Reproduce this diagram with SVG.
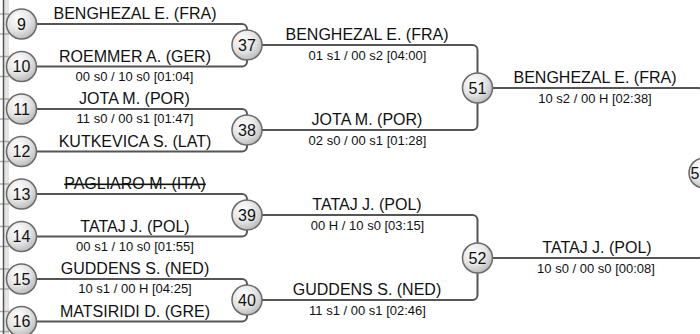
<svg xmlns="http://www.w3.org/2000/svg" width="700" height="334" viewBox="0 0 700 334">
<defs>
<radialGradient id="g" cx="0.38" cy="0.32" r="0.75">
<stop offset="0" stop-color="#ffffff"/>
<stop offset="0.55" stop-color="#e4e4e4"/>
<stop offset="1" stop-color="#b4b4b4"/>
</radialGradient>
</defs>
<style>
.c{fill:url(#g);stroke:#6a6a6a;stroke-width:1.5}
.cn{font-family:"Liberation Sans",Arial,sans-serif;font-size:16px;fill:#111;text-anchor:middle}
.nm{font-family:"Liberation Sans",Arial,sans-serif;font-size:16px;fill:#111;text-anchor:middle}
.sc{font-family:"Liberation Sans",Arial,sans-serif;font-size:13px;fill:#111;text-anchor:middle}
.ln{fill:none;stroke:#555;stroke-width:2}
.tk{fill:none;stroke:#aaa;stroke-width:1.5}
.st{text-decoration:line-through}
</style>
<rect x="0" y="0" width="700" height="334" fill="#ffffff"/>
<g id="left-edge">
<rect x="4" y="0" width="5" height="334" fill="#e4e4e4"/>
<path class="tk" d="M0,14H9M0,34H9M0,56.5H9M0,76.5H9M0,99H9M0,119H9M0,141.5H9M0,161.5H9M0,184H9M0,204H9M0,226.5H9M0,246.5H9M0,269H9M0,289H9M0,311.5H9M0,331.5H9"/>
<line x1="3.5" y1="0" x2="3.5" y2="334" stroke="#555" stroke-width="1.5"/>
</g>
<g id="connectors">
<path class="ln" d="M21.5,24H242A5,5 0 0 1 247,29V45"/>
<path class="ln" d="M21.5,66.5H242A5,5 0 0 0 247,61.5V45"/>
<path class="ln" d="M21.5,109H242A5,5 0 0 1 247,114V130"/>
<path class="ln" d="M21.5,151.5H242A5,5 0 0 0 247,146.5V130"/>
<path class="ln" d="M21.5,194H242A5,5 0 0 1 247,199V215"/>
<path class="ln" d="M21.5,236.5H242A5,5 0 0 0 247,231.5V215"/>
<path class="ln" d="M21.5,279H242A5,5 0 0 1 247,284V300"/>
<path class="ln" d="M21.5,321.5H242A5,5 0 0 0 247,316.5V300"/>
<path class="ln" d="M247,45H472.5A5,5 0 0 1 477.5,50V88"/>
<path class="ln" d="M247,130H472.5A5,5 0 0 0 477.5,125V88"/>
<path class="ln" d="M247,215H472.5A5,5 0 0 1 477.5,220V258"/>
<path class="ln" d="M247,300H472.5A5,5 0 0 0 477.5,295V258"/>
<path class="ln" d="M477.5,88H698A5,5 0 0 1 703,93V173"/>
<path class="ln" d="M477.5,258H698A5,5 0 0 0 703,253V173"/>
</g>
<g id="labels">
<text class="nm" x="135" y="19">BENGHEZAL E. (FRA)</text>
<text class="nm" x="135" y="61.5">ROEMMER A. (GER)</text>
<text class="sc" x="134.5" y="80.5">00 s0 / 10 s0 [01:04]</text>
<text class="nm" x="134.5" y="104">JOTA M. (POR)</text>
<text class="sc" x="135" y="123">11 s0 / 00 s1 [01:47]</text>
<text class="nm" x="135" y="146.5">KUTKEVICA S. (LAT)</text>
<text class="nm st" x="135" y="189">PAGLIARO M. (ITA)</text>
<text class="nm" x="135" y="231.5">TATAJ J. (POL)</text>
<text class="sc" x="135" y="250.5">00 s1 / 10 s0 [01:55]</text>
<text class="nm" x="135" y="274">GUDDENS S. (NED)</text>
<text class="sc" x="135" y="293">10 s1 / 00 H [04:25]</text>
<text class="nm" x="135" y="316.5">MATSIRIDI D. (GRE)</text>
<text class="nm" x="367" y="40">BENGHEZAL E. (FRA)</text>
<text class="sc" x="367.5" y="59.5">01 s1 / 00 s2 [04:00]</text>
<text class="nm" x="367" y="125">JOTA M. (POR)</text>
<text class="sc" x="367.5" y="144.5">02 s0 / 00 s1 [01:28]</text>
<text class="nm" x="367" y="210">TATAJ J. (POL)</text>
<text class="sc" x="367.5" y="229.5">00 H / 10 s0 [03:15]</text>
<text class="nm" x="367" y="295">GUDDENS S. (NED)</text>
<text class="sc" x="367.5" y="314.5">11 s1 / 00 s1 [02:46]</text>
<text class="nm" x="595" y="83">BENGHEZAL E. (FRA)</text>
<text class="sc" x="595" y="102.5">10 s2 / 00 H [02:38]</text>
<text class="nm" x="597" y="253">TATAJ J. (POL)</text>
<text class="sc" x="596" y="272.5">10 s0 / 00 s0 [00:08]</text>
</g>
<g id="node-9"><circle class="c" cx="21.5" cy="24" r="15"/><text class="cn" x="21.5" y="29.5">9</text></g>
<g id="node-10"><circle class="c" cx="21.5" cy="66.5" r="15"/><text class="cn" x="21.5" y="72">10</text></g>
<g id="node-11"><circle class="c" cx="21.5" cy="109" r="15"/><text class="cn" x="21.5" y="114.5">11</text></g>
<g id="node-12"><circle class="c" cx="21.5" cy="151.5" r="15"/><text class="cn" x="21.5" y="157">12</text></g>
<g id="node-13"><circle class="c" cx="21.5" cy="194" r="15"/><text class="cn" x="21.5" y="199.5">13</text></g>
<g id="node-14"><circle class="c" cx="21.5" cy="236.5" r="15"/><text class="cn" x="21.5" y="242">14</text></g>
<g id="node-15"><circle class="c" cx="21.5" cy="279" r="15"/><text class="cn" x="21.5" y="284.5">15</text></g>
<g id="node-16"><circle class="c" cx="21.5" cy="321.5" r="15"/><text class="cn" x="21.5" y="327">16</text></g>
<g id="node-37"><circle class="c" cx="247" cy="45" r="15"/><text class="cn" x="247" y="50.5">37</text></g>
<g id="node-38"><circle class="c" cx="247" cy="130" r="15"/><text class="cn" x="247" y="135.5">38</text></g>
<g id="node-39"><circle class="c" cx="247" cy="215" r="15"/><text class="cn" x="247" y="220.5">39</text></g>
<g id="node-40"><circle class="c" cx="247" cy="300" r="15"/><text class="cn" x="247" y="305.5">40</text></g>
<g id="node-51"><circle class="c" cx="477.5" cy="88" r="15"/><text class="cn" x="477.5" y="93.5">51</text></g>
<g id="node-52"><circle class="c" cx="477.5" cy="258" r="15"/><text class="cn" x="477.5" y="263.5">52</text></g>
<g id="node-5"><circle class="c" cx="704" cy="173" r="15"/><text class="cn" x="690.5" y="178.5" style="text-anchor:start">5</text></g>
</svg>
